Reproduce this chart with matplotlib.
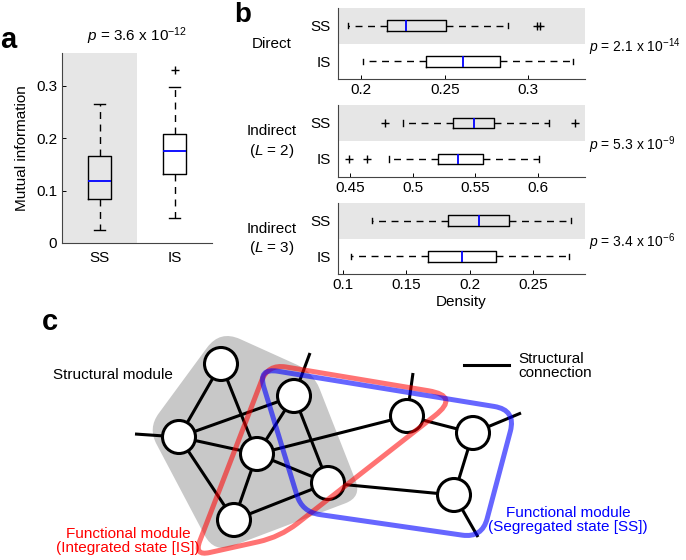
import numpy as np
import matplotlib
matplotlib.use('Agg')
from matplotlib import pyplot as plt
from matplotlib.patches import Circle, PathPatch
from matplotlib.path import Path

plt.rcParams['font.family'] = ['Liberation Sans', 'DejaVu Sans']
plt.rcParams['mathtext.fontset'] = 'custom'
plt.rcParams['mathtext.rm'] = 'Liberation Sans'
plt.rcParams['mathtext.it'] = 'Liberation Sans:italic'
plt.rcParams['font.size'] = 11

# ---- panel a : mutual information ----
mi_groups = ['SS', 'IS']
mi_whislo = [0.025, 0.047]
mi_q1 = [0.084, 0.131]
mi_med = [0.118, 0.176]
mi_q3 = [0.166, 0.208]
mi_whishi = [0.265, 0.298]
mi_fliers = [[], [0.330]]
mi_p = r'$\it{p}$ = 3.6 x 10$^{-12}$'

# ---- panel b : density (each row: SS, IS) ----
dens_rows = ['Direct', 'Indirect\n($\\it{L}$ = 2)', 'Indirect\n($\\it{L}$ = 3)']
dens_p = [r'$\it{p}$ = 2.1 x 10$^{-14}$', r'$\it{p}$ = 5.3 x 10$^{-9}$',
          r'$\it{p}$ = 3.4 x 10$^{-6}$']
dens_whislo = [[0.192, 0.201], [0.492, 0.481], [0.123, 0.106]]
dens_q1 = [[0.2156, 0.239], [0.532, 0.520], [0.183, 0.167]]
dens_med = [[0.227, 0.261], [0.549, 0.536], [0.207, 0.194]]
dens_q3 = [[0.2505, 0.283], [0.565, 0.556], [0.231, 0.221]]
dens_whishi = [[0.288, 0.327], [0.609, 0.601], [0.280, 0.278]]
dens_fliers = [[[0.305, 0.307], []], [[0.478, 0.630], [0.449, 0.4635]], [[], []]]
dens_xlim = [(0.186, 0.334), (0.440, 0.638), (0.096, 0.291)]
dens_xticks = [[0.2, 0.25, 0.3], [0.45, 0.5, 0.55, 0.6], [0.1, 0.15, 0.2, 0.25]]

# ---- panel c : network sketch (pixel coords) ----
node_x = [221, 294, 179, 257, 328, 234, 407, 473, 454]
node_y = [364, 396, 437, 454, 483, 520, 416, 433, 495]
edges = [(2, 0), (2, 1), (2, 3), (2, 5), (0, 3), (1, 3), (3, 5), (3, 6),
         (3, 4), (1, 4), (5, 4), (4, 8), (6, 7), (7, 8)]
stubs = [(2, 135, 434), (1, 310, 353), (6, 413, 373), (7, 521, 413), (8, 478, 537)]
struct_poly = [(220, 330), (313, 372), (362, 497), (214, 553), (148, 428)]
struct_r = [22, 18, 18, 20, 18]
ss_poly = [(258, 368), (516, 410), (482, 538), (302, 512)]
ss_r = [20, 22, 20, 18]
is_poly = [(268, 364), (460, 396), (280, 537), (194, 556)]
is_r = [18, 32, 22, 16]

W, H = 686, 560
fig = plt.figure(figsize=(W / 100, H / 100), dpi=100)


def fax(left, top, right, bottom):
    return fig.add_axes([left / W, 1 - bottom / H, (right - left) / W, (bottom - top) / H])


def make_stats(lo, q1, med, q3, hi, fl):
    return [dict(whislo=lo[i], q1=q1[i], med=med[i], q3=q3[i], whishi=hi[i],
                 fliers=fl[i]) for i in range(len(lo))]


bstyle = dict(boxprops=dict(color='black', linewidth=1),
              whiskerprops=dict(color='black', linewidth=1, linestyle=(0, (5, 4))),
              capprops=dict(color='black', linewidth=1),
              medianprops=dict(color='blue', linewidth=1.3),
              flierprops=dict(marker='+', markeredgecolor='black', markersize=6,
                              linestyle='none'))

# panel a
ax = fax(62, 53, 212, 243)
ax.axvspan(0.5, 1.5, color='#e6e6e6', lw=0, zorder=0)
ax.bxp(make_stats(mi_whislo, mi_q1, mi_med, mi_q3, mi_whishi, mi_fliers),
       positions=[1, 2], widths=0.31, **bstyle)
ax.set_xlim(0.5, 2.5)
ax.set_ylim(0, 0.362)
ax.set_yticks([0, 0.1, 0.2, 0.3])
ax.set_yticklabels(['0', '0.1', '0.2', '0.3'])
ax.set_xticks([1, 2])
ax.set_xticklabels(mi_groups)
ax.tick_params(axis='x', length=0, pad=6)
ax.tick_params(axis='y', direction='in', length=3, width=0.7)
for s in ['top', 'right']:
    ax.spines[s].set_visible(False)
for s in ['left', 'bottom']:
    ax.spines[s].set_color('#444444')
    ax.spines[s].set_linewidth(0.8)
ax.set_ylabel('Mutual information', labelpad=5)
ax.text(0.5, 1.03, mi_p, transform=ax.transAxes, ha='center', va='bottom')

# panel b
b_tops = [8, 105, 203]
b_bots = [79, 177, 274]
for k in range(3):
    ax = fax(338, b_tops[k], 585, b_bots[k])
    ax.axhspan(1.5, 2.5, color='#e6e6e6', lw=0, zorder=0)
    st = make_stats(dens_whislo[k], dens_q1[k], dens_med[k], dens_q3[k],
                    dens_whishi[k], dens_fliers[k])
    ax.bxp(st, positions=[2, 1], widths=0.3, orientation='horizontal', **bstyle)
    ax.set_ylim(0.5, 2.5)
    ax.set_xlim(*dens_xlim[k])
    ax.set_xticks(dens_xticks[k])
    ax.set_xticklabels(['%g' % v for v in dens_xticks[k]])
    ax.set_yticks([2, 1])
    ax.set_yticklabels(['SS', 'IS'])
    ax.tick_params(axis='y', length=0, pad=5)
    ax.tick_params(axis='x', direction='in', length=3, width=0.7, pad=3)
    for s in ['top', 'right']:
        ax.spines[s].set_visible(False)
    for s in ['left', 'bottom']:
        ax.spines[s].set_color('#444444')
        ax.spines[s].set_linewidth(0.8)
    mid = (b_tops[k] + b_bots[k]) / 2
    fig.text(272 / W, 1 - (mid + 1) / H, dens_rows[k], ha='center', va='center',
             linespacing=1.25)
    fig.text(589 / W, 1 - (mid + 4) / H, dens_p[k], ha='left', va='center',
             fontsize=10)
    if k == 2:
        ax.set_xlabel('Density', labelpad=2)

# panel labels
fig.text(8 / W, 1 - 40 / H, 'a', fontsize=21, fontweight='bold', ha='center', va='center')
fig.text(243 / W, 1 - 15 / H, 'b', fontsize=20, fontweight='bold', ha='center', va='center')
fig.text(50 / W, 1 - 322 / H, 'c', fontsize=21, fontweight='bold', ha='center', va='center')


# panel c
def rounded_path(pts, rads):
    pts = np.asarray(pts, float)
    n = len(pts)
    verts, codes = [], []
    for i in range(n):
        p0, p1, p2 = pts[i - 1], pts[i], pts[(i + 1) % n]
        d0 = (p0 - p1) / np.linalg.norm(p0 - p1)
        d2 = (p2 - p1) / np.linalg.norm(p2 - p1)
        verts += [p1 + d0 * rads[i], p1, p1 + d2 * rads[i]]
        codes += [Path.LINETO, Path.CURVE3, Path.CURVE3]
    codes[0] = Path.MOVETO
    verts.append(verts[0])
    codes.append(Path.CLOSEPOLY)
    return Path(verts, codes)


axc = fig.add_axes([0, 0, 1, 250 / H])
axc.set_xlim(0, W)
axc.set_ylim(H, H - 250)
axc.axis('off')

axc.add_patch(PathPatch(rounded_path(struct_poly, struct_r), facecolor='#c8c8c8',
                        edgecolor='none', zorder=0))
for i, j in edges:
    axc.plot([node_x[i], node_x[j]], [node_y[i], node_y[j]], color='black',
             lw=2.2, zorder=2, solid_capstyle='butt')
for i, sx, sy in stubs:
    axc.plot([node_x[i], sx], [node_y[i], sy], color='black', lw=2.2, zorder=2,
             solid_capstyle='butt')
for x, y in zip(node_x, node_y):
    axc.add_patch(Circle((x, y), 16.5, facecolor='white', edgecolor='black',
                         lw=2.2, zorder=3))
axc.add_patch(PathPatch(rounded_path(is_poly, is_r), facecolor='none',
                        edgecolor='red', alpha=0.55, lw=3.6, zorder=4))
axc.add_patch(PathPatch(rounded_path(ss_poly, ss_r), facecolor='none',
                        edgecolor='blue', alpha=0.6, lw=3.6, zorder=4))

axc.plot([464, 509], [365, 365], color='black', lw=2.2)
axc.text(518, 366, 'Structural\nconnection', ha='left', va='center', linespacing=1.0)
axc.text(53, 375, 'Structural module', ha='left', va='center')
axc.text(128, 541, 'Functional module\n(Integrated state [IS])', color='red',
         ha='center', va='center', linespacing=1.05)
axc.text(568, 520, 'Functional module\n(Segregated state [SS])', color='blue',
         ha='center', va='center', linespacing=1.05)

fig.savefig('out.png', dpi=100)
